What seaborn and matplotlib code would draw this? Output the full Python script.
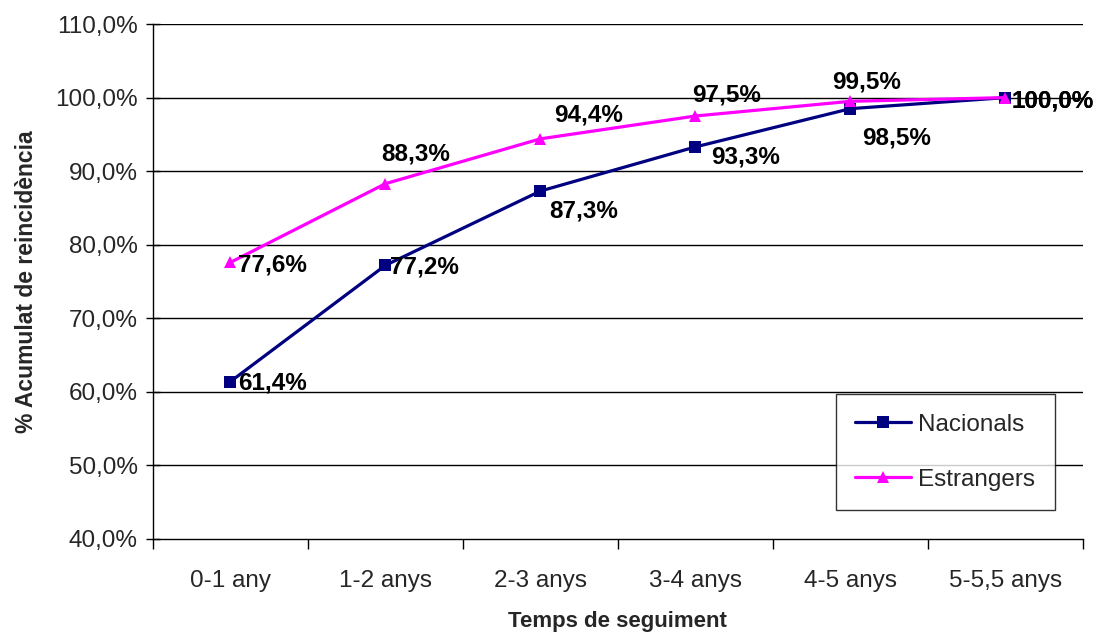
import matplotlib
matplotlib.use("Agg")
import matplotlib.pyplot as plt
import seaborn as sns
import pandas as pd
from matplotlib.ticker import FixedLocator, FuncFormatter

categories = ["0-1 any", "1-2 anys", "2-3 anys", "3-4 anys", "4-5 anys", "5-5,5 anys"]
nacionals = [61.4, 77.2, 87.3, 93.3, 98.5, 100.0]
estrangers = [77.6, 88.3, 94.4, 97.5, 99.5, 100.0]
series_names = ["Nacionals", "Estrangers"]

df = pd.DataFrame({
    "cat": categories * 2,
    "val": nacionals + estrangers,
    "serie": [series_names[0]] * len(categories) + [series_names[1]] * len(categories),
})

sns.set_theme(style="white")
plt.rcParams["font.family"] = ["Liberation Sans", "DejaVu Sans"]

fig = plt.figure(figsize=(11, 6.33), dpi=100)
ax = fig.add_axes([0.139, 0.1485, 0.8455, 0.8135])

palette = {"Nacionals": "#000080", "Estrangers": "#FF00FF"}
markers = {"Nacionals": "s", "Estrangers": "^"}
sns.lineplot(data=df, x="cat", y="val", hue="serie", style="serie",
             palette=palette, markers=markers, dashes=False, linewidth=2.3,
             markersize=8, markeredgewidth=0, ax=ax, sort=False)

ax.set_xlim(-0.5, 5.5)
ax.set_ylim(40, 110)
yt = list(range(40, 111, 10))
ax.set_yticks(yt)
ax.yaxis.set_major_formatter(FuncFormatter(lambda v, p: f"{v:.1f}%".replace(".", ",")))
ax.set_xticks(range(len(categories)))
ax.set_xticklabels(categories)
ax.xaxis.set_minor_locator(FixedLocator([i - 0.5 for i in range(len(categories) + 1)]))
ax.tick_params(axis="x", which="major", length=0, pad=22, labelsize=17.5)
ax.tick_params(axis="x", which="minor", length=7, width=1, direction="out", color="black", bottom=True)
ax.tick_params(axis="y", which="major", length=10, width=1, direction="inout", color="black", left=True, labelsize=17.5, pad=6)

ax.grid(False)
for v in yt[1:]:
    ax.axhline(v, color="black", linewidth=1, zorder=0)

for s in ["top", "right"]:
    ax.spines[s].set_visible(False)
for s in ["left", "bottom"]:
    ax.spines[s].set_color("black")
    ax.spines[s].set_linewidth(1)

ax.set_xlabel("Temps de seguiment", fontsize=16, fontweight="bold", labelpad=14)
ax.set_ylabel("% Acumulat de reincidència", fontsize=16.5, fontweight="bold", labelpad=12)

def fmt(v):
    return f"{v:.1f}%".replace(".", ",")

off_n = [(42, -1), (39, -2), (43, -20), (50, -10), (46, -29), (47, -3)]
off_e = [(42, -3), (30, 30), (48, 24), (31, 21), (16, 19), (47, -3)]
for i, (vn, ve) in enumerate(zip(nacionals, estrangers)):
    ax.annotate(fmt(vn), (i, vn), xytext=off_n[i], textcoords="offset pixels",
                ha="center", va="center", fontsize=17.5, fontweight="bold", color="black")
    ax.annotate(fmt(ve), (i, ve), xytext=off_e[i], textcoords="offset pixels",
                ha="center", va="center", fontsize=17.5, fontweight="bold", color="black")

leg = ax.legend(loc="center", bbox_to_anchor=(0.742, 0.052, 0.22, 0.233),
                fontsize=17.5, frameon=True, fancybox=False, edgecolor="black",
                handlelength=2.3, labelspacing=1.35, borderpad=0.8, handletextpad=0.3,
                borderaxespad=0.0)
leg.get_frame().set_linewidth(1)
leg.set_title(None)

fig.savefig("out.png", dpi=100)
